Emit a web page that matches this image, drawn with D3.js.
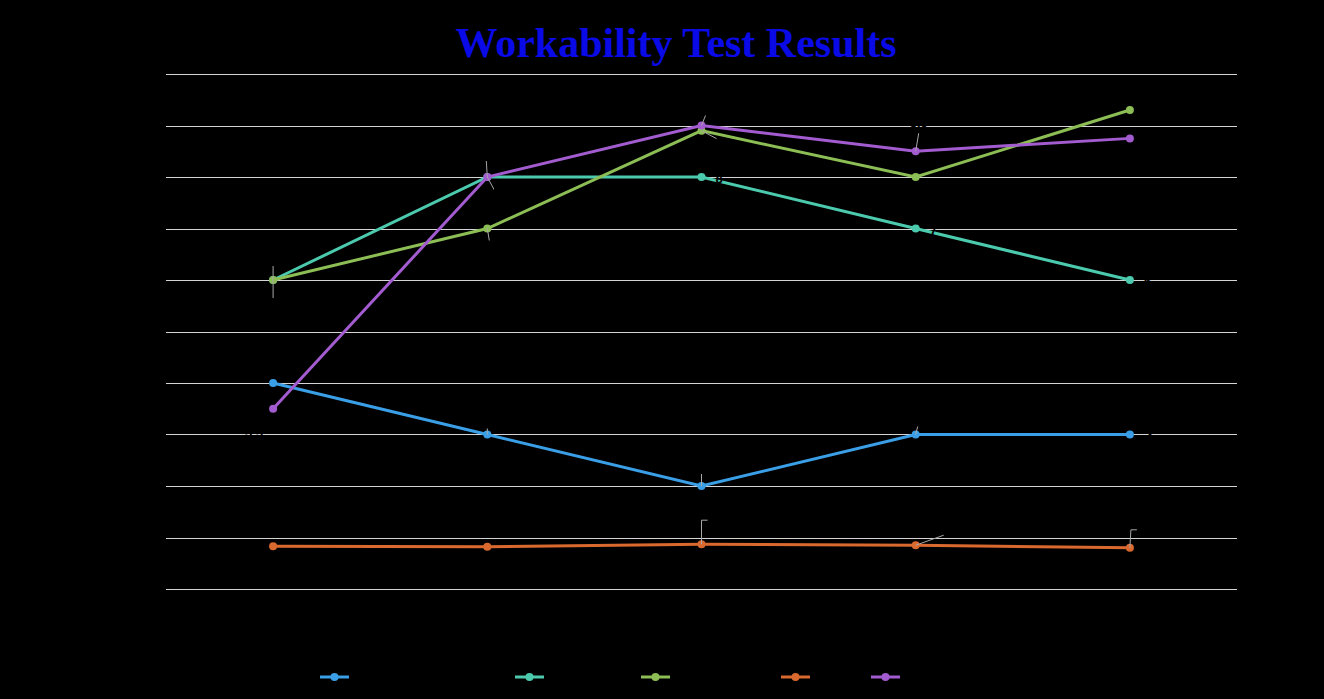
<!DOCTYPE html>
<html><head><meta charset="utf-8">
<script src="https://cdn.jsdelivr.net/npm/d3@7"></script>
<style>html,body{margin:0;padding:0;background:#000;}svg{display:block;}</style>
</head><body>
<svg id="chart" width="1324" height="699"></svg>
<script>
const categories = ["Mix A", "Mix B", "Mix C", "Mix D", "Mix E"];
const seriesNames = ["Vee-Bee Time (seconds)", "Slump (cm)", "Flow Value (cm)", "Compaction", "Kelly Ball (cm)"];
const seriesColors = ["#3a9fe6", "#4ccaae", "#8cbe55", "#d9692f", "#a35bd0"];
const veeBee = [4, 3, 2, 3, 3];
const slump = [6, 8, 8, 7, 6];
const flow = [6, 7, 8.9, 8, 9.3];
const compaction = [0.83, 0.82, 0.87, 0.85, 0.80];
const kelly = [3.5, 8, 9, 8.5, 8.75];
const yTicks = [0,1,2,3,4,5,6,7,8,9,10];

const seriesValues = [veeBee, slump, flow, compaction, kelly];
const svg = d3.select("#chart");
const W = 1324, H = 699;
svg.append("rect").attr("width", W).attr("height", H).attr("fill", "#000");

const m = {left: 166, right: 1237, top: 74, bottom: 589};
const x = d3.scalePoint().domain(categories).range([m.left, m.right]).padding(0.5);
const y = d3.scaleLinear().domain([0, 10]).range([m.bottom, m.top]);

// gridlines (pixel-snapped)
svg.append("g").selectAll("line").data(yTicks).join("line")
  .attr("x1", m.left).attr("x2", m.right)
  .attr("y1", d => Math.round(y(d)) + 0.5).attr("y2", d => Math.round(y(d)) + 0.5)
  .attr("stroke", "#d4d4d4").attr("stroke-width", 1.2);

// axes (black text on black background)
const yAxis = svg.append("g").attr("transform", `translate(${m.left},0)`)
  .call(d3.axisLeft(y).tickValues(yTicks).tickSize(0).tickPadding(8));
yAxis.select(".domain").remove();
yAxis.selectAll("text").attr("fill", "#000").style("font", "13px 'Liberation Sans', Arial");

const xAxis = svg.append("g").attr("transform", `translate(0,${m.bottom})`)
  .call(d3.axisBottom(x).tickSize(0).tickPadding(12));
xAxis.select(".domain").remove();
xAxis.selectAll("text").attr("fill", "#000").style("font", "13px 'Liberation Sans', Arial");

svg.append("text").attr("x", (m.left + m.right) / 2).attr("y", 635).attr("text-anchor", "middle")
  .attr("fill", "#000").style("font", "14px 'Liberation Sans', Arial").text("Concrete Mix");
svg.append("text").attr("transform", `translate(110,${(m.top + m.bottom) / 2}) rotate(-90)`)
  .attr("text-anchor", "middle").attr("fill", "#000").style("font", "14px 'Liberation Sans', Arial").text("Test Value");

// title
svg.append("text").attr("x", 676).attr("y", 57).attr("text-anchor", "middle")
  .attr("fill", "#0a0ae6").style("font", "bold 42px 'Liberation Serif', 'DejaVu Serif', serif")
  .text("Workability Test Results");

// lines
const line = d3.line().x((d, i) => x(categories[i])).y(d => y(d));
seriesValues.forEach((vals, s) => {
  const g = svg.append("g");
  g.append("path").datum(vals).attr("d", line).attr("fill", "none")
    .attr("stroke", seriesColors[s]).attr("stroke-width", 3);
  g.selectAll("circle").data(vals).join("circle")
    .attr("cx", (d, i) => x(categories[i])).attr("cy", d => y(d)).attr("r", 4)
    .attr("fill", seriesColors[s]);
});

// data labels with leader lines (offsets in px relative to the point)
const labelOffsets = [
  [[0,0,-16,-3,"end"],[0,-6,0,-8,"middle"],[0,-12,0,-14,"middle"],[2,-8,2,-10,"middle"],[0,0,16,4,"start"]],
  [[0,-14,0,-18,"middle"],[-1,-16,-1,-20,"middle"],[0,0,14,6,"start"],[0,0,14,6,"start"],[0,0,14,6,"start"]],
  [[0,18,0,30,"middle"],[2,12,2,24,"middle"],[15,8,22,14,"start"],[0,0,14,-8,"start"],[0,0,14,-8,"start"]],
  [[0,0,-14,-6,"end"],[0,0,0,-10,"middle"],[0,-24,8,-24,"start"],[28,-10,34,-12,"start"],[1,-18,7,-18,"start"]],
  [[0,0,-10,28,"end"],[7,13,9,20,"middle"],[4,-10,4,-14,"middle"],[3,-18,3,-24,"middle"],[0,0,14,-6,"start"]]
];
const leaderShown = [
  [false,true,true,true,false],
  [true,true,false,false,false],
  [true,true,true,false,false],
  [false,false,true,true,true],
  [false,true,true,true,false]
];
// labels whose text is not drawn in the reference (hidden by overlap)
const labelHidden = [
  [false,false,false,false,false],
  [false,false,false,false,false],
  [false,false,true,false,true],
  [true,false,false,false,false],
  [false,false,false,false,true]
];
seriesValues.forEach((vals, s) => {
  vals.forEach((v, i) => {
    const px = x(categories[i]), py = y(v);
    const o = labelOffsets[s][i];
    if (leaderShown[s][i]) {
      if (s === 3 && (i === 2 || i === 4)) {
        svg.append("path").attr("d", `M${px},${py}L${px + (i===4?1:0)},${py + o[1]}L${px + o[0] + 6},${py + o[1]}`)
          .attr("fill", "none").attr("stroke", "#a8a8a8").attr("stroke-width", 1);
      } else {
        svg.append("line").attr("x1", px).attr("y1", py).attr("x2", px + o[0]).attr("y2", py + o[1])
          .attr("stroke", "#a8a8a8").attr("stroke-width", 1);
      }
    }
    if (!labelHidden[s][i]) {
      svg.append("text").attr("x", px + o[2]).attr("y", py + o[3]).attr("text-anchor", o[4])
        .attr("fill", "#000").style("font", "bold 13px 'Liberation Sans', Arial").text(v);
    }
  });
});

// legend
const legendX = [320, 515, 641, 781, 871];
seriesNames.forEach((name, s) => {
  const g = svg.append("g").attr("transform", `translate(${legendX[s]},677)`);
  g.append("line").attr("x1", 0).attr("x2", 29).attr("stroke", seriesColors[s]).attr("stroke-width", 3);
  g.append("circle").attr("cx", 14.5).attr("r", 4).attr("fill", seriesColors[s]);
  g.append("text").attr("x", 36).attr("y", 5).attr("fill", "#000")
    .style("font", "13px 'Liberation Sans', Arial").text(name);
});
</script>
</body></html>
